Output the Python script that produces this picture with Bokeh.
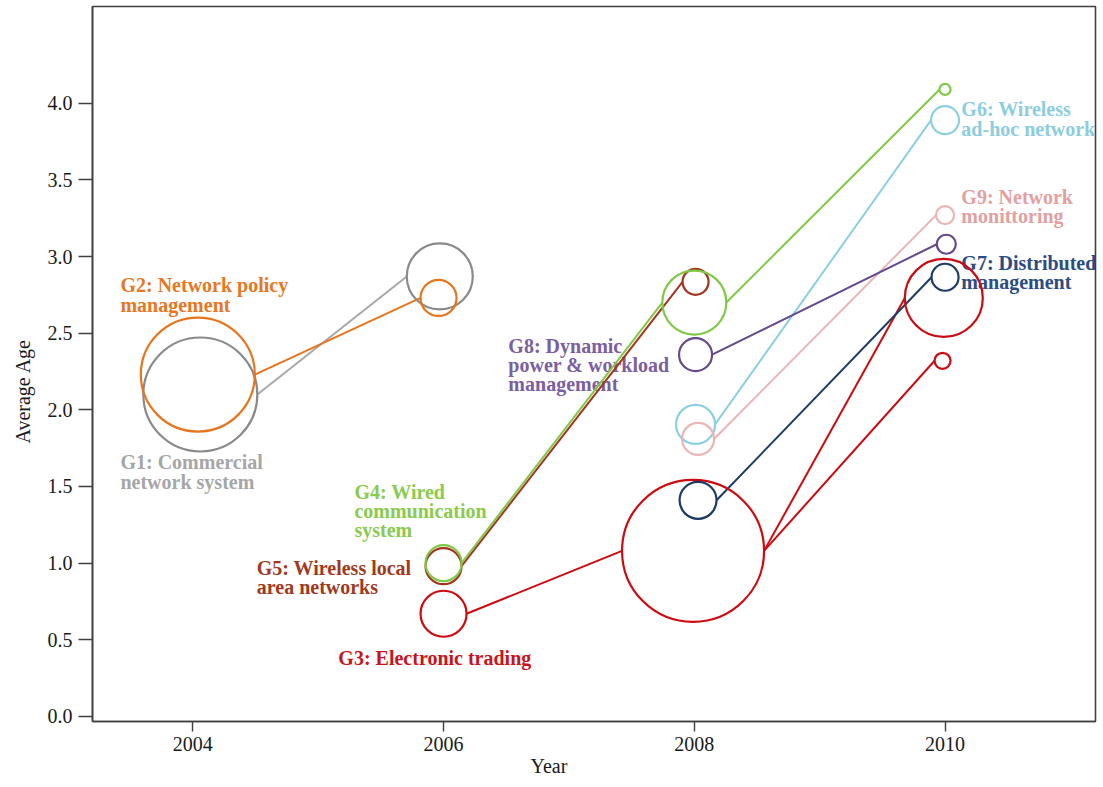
from bokeh.plotting import figure
from bokeh.models import ColumnDataSource, Range1d, FixedTicker, Title
from bokeh.core.properties import value
from bokeh.embed import file_html
from bokeh.resources import INLINE

# ---- data: year, average age and bubble diameter (px) per research group ----
groups = ["G1", "G2", "G3", "G4", "G5", "G6", "G7", "G8", "G9"]

g1_year = [2004.06, 2005.97]
g1_age = [2.10, 2.87]
g1_size = [114, 66]

g2_year = [2004.04, 2005.96]
g2_age = [2.23, 2.73]
g2_size = [114, 36]

g3_year = [2006.0, 2007.99, 2009.99, 2009.98]
g3_age = [0.67, 1.08, 2.73, 2.32]
g3_size = [46, 142, 78, 16]

g4_year = [2006.0, 2008.0, 2010.0]
g4_age = [1.00, 2.70, 4.09]
g4_size = [36, 64, 11]

g5_year = [2006.0, 2008.01]
g5_age = [0.98, 2.835]
g5_size = [36, 26]

g6_year = [2008.01, 2010.0]
g6_age = [1.905, 3.89]
g6_size = [39, 28]

g7_year = [2008.03, 2010.0]
g7_age = [1.41, 2.865]
g7_size = [37, 27]

g8_year = [2008.01, 2010.01]
g8_age = [2.36, 3.08]
g8_size = [33, 19]

g9_year = [2008.03, 2010.0]
g9_age = [1.81, 3.27]
g9_size = [32, 18]

# G3 branches at 2008 into two 2010 groups
g3_links = [(0, 1), (1, 2), (1, 3)]

group_names = [
    "G1: Commercial\nnetwork system",
    "G2: Network policy\nmanagement",
    "G3: Electronic trading",
    "G4: Wired\ncommunication\nsystem",
    "G5: Wireless local\narea networks",
    "G6: Wireless\nad-hoc network",
    "G7: Distributed\nmanagement",
    "G8: Dynamic\npower & workload\nmanagement",
    "G9: Network\nmonittoring",
]

x_ticks = [2004, 2006, 2008, 2010]
y_ticks = [0.0, 0.5, 1.0, 1.5, 2.0, 2.5, 3.0, 3.5, 4.0]

# ---- styling ----
mark_colors = {
    "G1": "#8a8a8a", "G2": "#e8741c", "G3": "#cc0a10", "G4": "#80c846",
    "G5": "#a2341f", "G6": "#8ccfe1", "G7": "#1d3b64", "G8": "#654a8c",
    "G9": "#e9b5b5",
}
link_colors = dict(mark_colors, G1="#a8a8a8")
text_colors = {
    "G1": "#a6a6a6", "G2": "#e8771f", "G3": "#c8141c", "G4": "#8acb4e",
    "G5": "#a03a1e", "G6": "#8dcde0", "G7": "#2b4c85", "G8": "#7b5fa0",
    "G9": "#e2a0a0",
}
# label anchors (top-left of text block)
label_x = [2003.423, 2003.423, 2005.161, 2005.289, 2004.510,
           2010.130, 2010.130, 2006.517, 2010.130]
label_y = [1.729, 2.885, 0.455, 1.538, 1.042, 4.033, 3.031, 2.490, 3.462]

W, H = 1103, 787
LEFT, RIGHT, TOP, BOTTOM = 92, 8, 6, 66
X0, X1 = 2003.2, 2011.2
Y0, Y1 = -0.033, 4.631
px_per_year = (W - LEFT - RIGHT) / (X1 - X0)

series = {
    "G1": (g1_year, g1_age, g1_size, None),
    "G2": (g2_year, g2_age, g2_size, None),
    "G3": (g3_year, g3_age, g3_size, g3_links),
    "G4": (g4_year, g4_age, g4_size, None),
    "G5": (g5_year, g5_age, g5_size, None),
    "G6": (g6_year, g6_age, g6_size, None),
    "G7": (g7_year, g7_age, g7_size, None),
    "G8": (g8_year, g8_age, g8_size, None),
    "G9": (g9_year, g9_age, g9_size, None),
}

p = figure(width=W, height=H, x_range=Range1d(X0, X1), y_range=Range1d(Y0, Y1),
           output_backend="svg", toolbar_location=None,
           min_border_left=LEFT, min_border_right=RIGHT,
           min_border_top=TOP, min_border_bottom=BOTTOM)
p.background_fill_color = "white"
p.border_fill_color = "white"
p.grid.visible = False
p.outline_line_color = "#404040"
p.outline_line_width = 1.6

FONT = "Liberation Serif"
for ax in (p.xaxis[0], p.yaxis[0]):
    ax.axis_line_color = "#404040"
    ax.axis_line_width = 1.6
    ax.major_tick_line_color = "#404040"
    ax.major_tick_line_width = 1.4
    ax.major_tick_in = 0
    ax.minor_tick_line_color = None
    ax.major_label_text_font = FONT
    ax.major_label_text_font_size = "20px"
    ax.major_label_text_color = "#1a1a1a"

p.xaxis.ticker = FixedTicker(ticks=x_ticks)
p.xaxis.major_label_overrides = {t: str(t) for t in x_ticks}
p.xaxis.major_tick_out = 10
p.xaxis.major_label_standoff = 5
p.yaxis.ticker = FixedTicker(ticks=y_ticks)
p.yaxis.major_label_overrides = {t: f"{t:.1f}" for t in y_ticks}
p.yaxis.major_tick_out = 14
p.yaxis.major_label_standoff = 6

# group names
p.text(x="x", y="y", text="text", text_color="color",
       source=ColumnDataSource(dict(x=label_x, y=label_y, text=group_names,
                                    color=[text_colors[g] for g in groups])),
       text_font=value(FONT), text_font_style="bold", text_font_size="20px",
       text_align="left", text_baseline="top", text_line_height=0.88)

# connecting links: from the right rim of one bubble to the left rim of the next
draw_order = ["G1", "G2", "G5", "G4", "G3", "G6", "G9", "G8", "G7"]
for g in draw_order:
    yrs, ages, sizes, links = series[g]
    if links is None:
        links = [(i, i + 1) for i in range(len(yrs) - 1)]
    x0 = [yrs[a] + sizes[a] / 2 / px_per_year for a, b in links]
    x1 = [yrs[b] - sizes[b] / 2 / px_per_year for a, b in links]
    y0 = [ages[a] for a, b in links]
    y1 = [ages[b] for a, b in links]
    p.segment(x0=x0, y0=y0, x1=x1, y1=y1, line_color=link_colors[g],
              line_width=2)

for g in draw_order:
    yrs, ages, sizes, _ = series[g]
    p.scatter(x=yrs, y=ages, size=sizes, marker="circle", fill_color=None,
              line_color=mark_colors[g], line_width=2.2)

# axis titles
p.add_layout(Title(text="Year", align="left", offset=438, standoff=0,
                   vertical_align="middle", text_font=FONT,
                   text_font_size="20px", text_font_style="normal",
                   text_color="#1a1a1a"), "below")
p.add_layout(Title(text="Average Age", align="left", offset=278, standoff=18,
                   vertical_align="top", text_font=FONT,
                   text_font_size="20px", text_font_style="normal",
                   text_color="#1a1a1a"), "left")

open("out.html", "w").write(file_html(p, INLINE))
